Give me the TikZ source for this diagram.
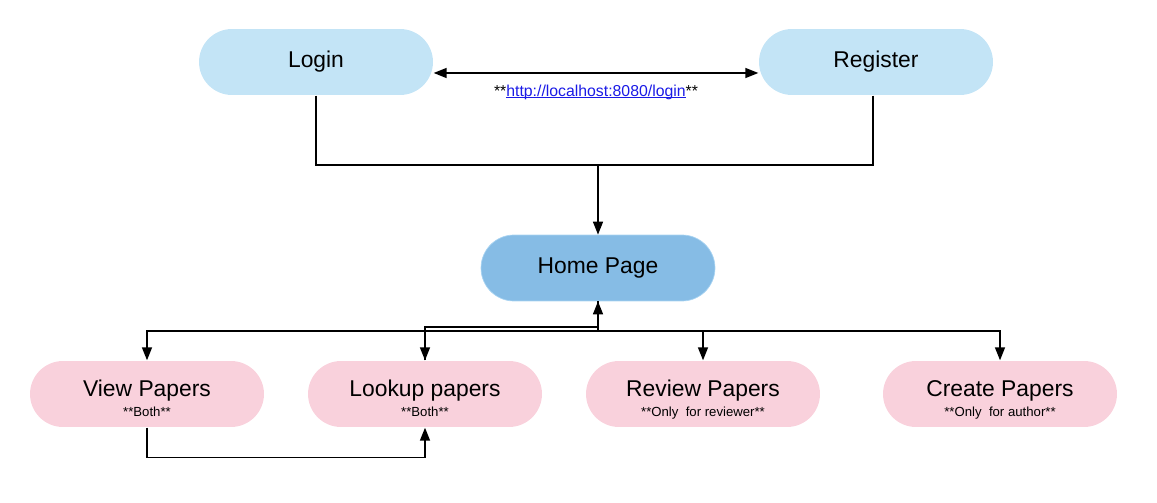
\documentclass[tikz,border=0pt]{standalone}
\usepackage{fontspec}
\setmainfont{Liberation Sans}
\usetikzlibrary{arrows.meta,positioning}

\definecolor{startblue}{HTML}{C3E4F6}
\definecolor{homeblue}{HTML}{86BCE5}
\definecolor{homeline}{HTML}{A9D4F2}
\definecolor{paperpink}{HTML}{F9D1DC}
\definecolor{linkblue}{HTML}{1A1AE6}

\newcommand{\linkline}[1]{\setbox0\hbox{#1}\rlap{\rule[-1.1pt]{\wd0}{0.5pt}}\box0}

\begin{document}
\begin{tikzpicture}[x=0.02cm,y=-0.02cm,thick,>={Triangle[length=2.6mm,width=2mm]},
                    main node/.style={rectangle,rounded corners=0.66cm,minimum width=4.68cm,
                                      minimum height=1.32cm,inner sep=0pt,
                                      font=\fontsize{13}{15}\selectfont},
                    start node/.style={main node,fill=startblue},
                    home node/.style={main node,fill=homeblue,draw=homeline,thin},
                    paper node/.style={main node,fill=paperpink,text height=9pt,text depth=5.6pt},
                    sub note/.style={font=\fontsize{7.5}{9}\selectfont,anchor=base,yshift=0.22cm}]
  \useasboundingbox (0,0) rectangle (1157,503);

  \node[start node] (login) at (316,62) {Login};
  \node[start node] (register) at (876,62) {Register};
  \node[home node] (home) at (598,268) {Home Page};

  \node[paper node,label={[sub note]south:**Both**}] (view) at (147,394) {View Papers};
  \node[paper node,label={[sub note]south:**Both**}] (lookup) at (425,394) {Lookup papers};
  \node[paper node,label={[sub note]south:**Only\ \ for reviewer**}] (review) at (703,394) {Review Papers};
  \node[paper node,label={[sub note]south:**Only\ \ for author**}] (create) at (1000,394) {Create Papers};

  \coordinate (join) at (598,165);
  \coordinate (split) at (598,331);
  \coordinate (back) at (598,327);

  \draw[<->] ([yshift=-0.22cm]login.east) -- ([yshift=-0.22cm]register.west)
    node[midway,below=3pt,font=\fontsize{9}{11}\selectfont]
    {**\textcolor{linkblue}{\linkline{http://localhost:8080/login}}**};

  \draw (login.south) |- (join);
  \draw ([xshift=-0.06cm]register.south) |- (join);
  \draw[->] (join) -- (home.north);

  \draw (home.south) -- (split);
  \foreach \n in {view,lookup,review,create}
    \draw[->] (split) -| (\n.north);
  \draw[->] (lookup.north) |- (back) -- (home.south);

  \draw[->] (view.south) -- ++(0,30) -| (lookup.south);
\end{tikzpicture}
\end{document}
